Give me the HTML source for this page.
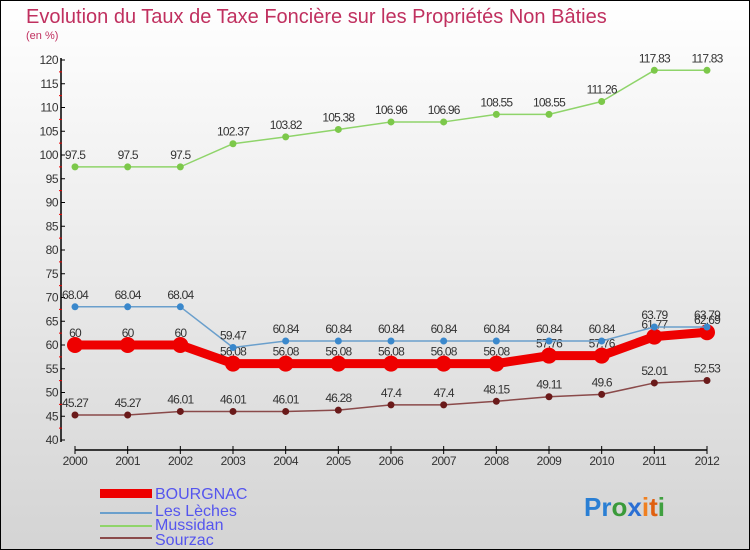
<!DOCTYPE html>
<html><head><meta charset="utf-8"><style>
body{margin:0;width:750px;height:550px;overflow:hidden}
svg{display:block;font-family:"Liberation Sans",sans-serif}
</style></head><body>
<svg id="c" width="750" height="550">
<defs><linearGradient id="bg" x1="0" y1="0" x2="0" y2="1"><stop offset="0" stop-color="#ffffff"/><stop offset="1" stop-color="#d4d4d4"/></linearGradient></defs>
<rect x="0.5" y="0.5" width="749" height="549" fill="url(#bg)" stroke="#000"/>
<text x="26" y="23" font-size="20" fill="#c0305f">Evolution du Taux de Taxe Foncière sur les Propriétés Non Bâties</text>
<text x="26" y="39" font-size="11" fill="#c0305f">(en %)</text>
<g id="axes"></g><g id="series"></g>
<g>
<rect x="100" y="489" width="52" height="9" fill="#e00"/>
<text x="155" y="499" font-size="16" fill="#5555ee">BOURGNAC</text>
<line x1="100" y1="513" x2="152" y2="513" stroke="#6a9fcc" stroke-width="2"/>
<text x="155" y="516" font-size="16" fill="#5555ee">Les Lèches</text>
<line x1="100" y1="526" x2="152" y2="526" stroke="#8fd46a" stroke-width="2"/>
<text x="155" y="530" font-size="16" fill="#5555ee">Mussidan</text>
<line x1="100" y1="538" x2="152" y2="538" stroke="#8a4a4a" stroke-width="2"/>
<text x="155" y="545" font-size="16" fill="#5555ee">Sourzac</text>
</g>
<g font-size="26" font-weight="bold">
<text x="584" y="516"><tspan fill="#2a7fd4">P</tspan><tspan fill="#2a7fd4">r</tspan><tspan fill="#3a9a3a">o</tspan><tspan fill="#2a6fd4">x</tspan><tspan fill="#f08020">i</tspan><tspan fill="#e06010">t</tspan><tspan fill="#40a040">i</tspan></text>
</g>
</svg>
<script>
const years=[2000,2001,2002,2003,2004,2005,2006,2007,2008,2009,2010,2011,2012];
const yTicks=[40,45,50,55,60,65,70,75,80,85,90,95,100,105,110,115,120];
const bourgnac=[60,60,60,56.08,56.08,56.08,56.08,56.08,56.08,57.76,57.76,61.77,62.69];
const lesLeches=[68.04,68.04,68.04,59.47,60.84,60.84,60.84,60.84,60.84,60.84,60.84,63.79,63.79];
const mussidan=[97.5,97.5,97.5,102.37,103.82,105.38,106.96,106.96,108.55,108.55,111.26,117.83,117.83];
const sourzac=[45.27,45.27,46.01,46.01,46.01,46.28,47.4,47.4,48.15,49.11,49.6,52.01,52.53];
const NS='http://www.w3.org/2000/svg';
const x=i=>75+i*(707-75)/(years.length-1);
const y=v=>440-(v-40)*(380/80);
function mk(p,t,a){const e=document.createElementNS(NS,t);for(const k in a)e.setAttribute(k,a[k]);p.appendChild(e);return e;}
const ax=document.getElementById('axes');
let e=mk(ax,'line',{x1:61,y1:58,x2:61,y2:442,stroke:'#000','stroke-width':1.5});


yTicks.forEach((v,k)=>{
 mk(ax,'line',{x1:61,y1:y(v),x2:65,y2:y(v),stroke:'#000'});
 if(k<yTicks.length-1) mk(ax,'line',{x1:59,y1:y(v+2.5),x2:62,y2:y(v+2.5),stroke:'#e00'});
 const t=mk(ax,'text',{x:58,y:y(v)+4,'font-size':12,fill:'#333','text-anchor':'end','letter-spacing':'-0.5'});t.textContent=v;
 
 
});
e=mk(ax,'line',{x1:75,y1:450,x2:707,y2:450,stroke:'#000','stroke-width':1.5});


years.forEach((yr,i)=>{
 mk(ax,'line',{x1:x(i),y1:446,x2:x(i),y2:454,stroke:'#000'});
 const t=mk(ax,'text',{x:x(i),y:465,'font-size':12,fill:'#333','text-anchor':'middle','letter-spacing':'-0.5'});t.textContent=yr;
 
 
});
const sg=document.getElementById('series');
function draw(vals,name,col,w,r,dot,lblOff){
 const g=mk(sg,'g',{});
 
 
 mk(g,'polyline',{points:vals.map((v,i)=>x(i)+','+y(v)).join(' '),fill:'none',stroke:col,'stroke-width':w,'stroke-linejoin':'round'});
 vals.forEach((v,i)=>{
  const c=mk(g,'circle',{cx:x(i),cy:y(v),r:r,fill:dot});
  
  
  const t=mk(g,'text',{x:x(i),y:y(v)+lblOff,'font-size':12,fill:'#333','text-anchor':'middle','letter-spacing':'-0.8'});t.textContent=v;
  
  
 });
}
draw(mussidan,'mussidan','#8fd46a',1.5,3.5,'#7cc84a',-8);
draw(sourzac,'sourzac','#8a4a4a',1.5,3.5,'#6a1a1a',-8);
draw(bourgnac,'bourgnac','#ee0000',9,8,'#ee0000',-8);
draw(lesLeches,'les-leches','#6a9fcc',1.5,3.5,'#3a88cc',-8);
</script>
</body></html>
